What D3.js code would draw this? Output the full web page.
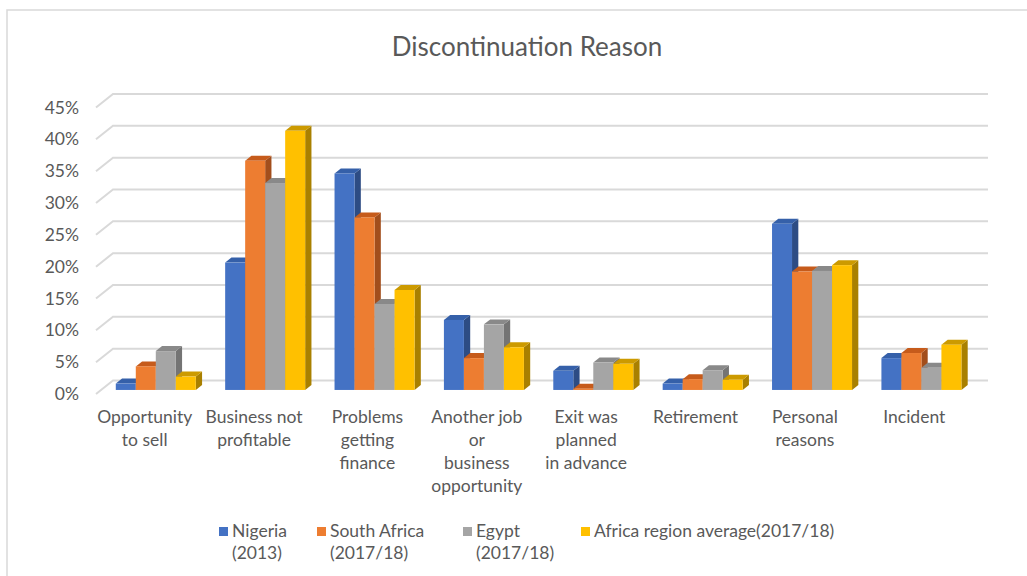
<!DOCTYPE html>
<html>
<head>
<meta charset="utf-8">
<script src="https://cdn.jsdelivr.net/npm/d3@7"></script>
<style>
  html, body { margin: 0; padding: 0; background: #fff; }
  svg { display: block; }
  text { font-family: Lato, "Open Sans", sans-serif; fill: #595959; }
</style>
</head>
<body>
<svg id="chart" width="1027" height="576"></svg>
<script>
// Reasons for discontinuing a business, share of respondents
const categories = [
  "Opportunity to sell", "Business not profitable", "Problems getting finance",
  "Another job or business opportunity", "Exit was planned in advance",
  "Retirement", "Personal reasons", "Incident"
];
const categoryLines = [
  ["Opportunity", "to sell"],
  ["Business not", "profitable"],
  ["Problems", "getting", "finance"],
  ["Another job", "or", "business", "opportunity"],
  ["Exit was", "planned", "in advance"],
  ["Retirement"],
  ["Personal", "reasons"],
  ["Incident"]
];
const seriesNames = ["Nigeria (2013)", "South Africa (2017/18)", "Egypt (2017/18)", "Africa region average(2017/18)"];
const legendLines = [["Nigeria", "(2013)"], ["South Africa", "(2017/18)"], ["Egypt", "(2017/18)"], ["Africa region average(2017/18)"]];

const nigeria     = [0.010, 0.200, 0.340, 0.110, 0.030, 0.010, 0.261, 0.050];
const southAfrica = [0.037, 0.360, 0.271, 0.050, 0.002, 0.017, 0.186, 0.058];
const egypt       = [0.061, 0.325, 0.135, 0.103, 0.043, 0.031, 0.187, 0.035];
const africaAvg   = [0.021, 0.407, 0.157, 0.067, 0.041, 0.016, 0.196, 0.071];
const seriesValues = [nigeria, southAfrica, egypt, africaAvg];

const yTicks = [0, 0.05, 0.10, 0.15, 0.20, 0.25, 0.30, 0.35, 0.40, 0.45];

// face colours: front, top, right side
const palette = [
  { front: "#4472C4", top: "#3560A9", side: "#2D4C84" },
  { front: "#ED7D31", top: "#C65B1B", side: "#A24E1C" },
  { front: "#A5A5A5", top: "#898989", side: "#747474" },
  { front: "#FFC000", top: "#CC9A00", side: "#A98000" }
];

const svg = d3.select("#chart");

// chart frame
svg.append("rect")
  .attr("x", 7).attr("y", 10).attr("width", 1200).attr("height", 800)
  .attr("fill", "none").attr("stroke", "#d9d9d9").attr("stroke-width", 1.5);

svg.append("text")
  .attr("x", 527).attr("y", 56)
  .attr("text-anchor", "middle")
  .style("font-size", "26px")
  .text("Discontinuation Reason");

// Oblique 3D: points on the back wall are shifted up-right from the front plane
const depthDX = 17, depthDY = -13.5;
const yBack = d3.scaleLinear().domain([0, 0.45]).range([380.5, 94]);
const x0 = d3.scaleBand().domain(categories).range([113, 988]).padding(0);
const groupWidth = 80;
const xi = d3.scaleBand().domain(seriesNames).range([0, groupWidth]).padding(0);

// depth fraction measured from the back wall (0) to the front plane (1)
function px(xb, d) { return xb - depthDX * d; }
function py(v, d) { return yBack(v) - depthDY * d; }

// gridlines: slanted segment on the side wall, then across the back wall
const grid = svg.append("g");
yTicks.forEach(t => {
  grid.append("path")
    .attr("d", `M${px(113, 1)},${py(t, 1)} L113,${yBack(t)} L988,${yBack(t)}`)
    .attr("fill", "none").attr("stroke", "#d9d9d9").attr("stroke-width", 2);
});

// y-axis tick labels on the front plane
svg.append("g").selectAll("text").data(yTicks).join("text")
  .attr("x", 79).attr("y", d => py(d, 1))
  .attr("dy", "0.35em")
  .attr("text-anchor", "end")
  .style("font-size", "17.5px")
  .text(d => d3.format(".0%")(d));

// bars: front face at depth 0.70, back face at depth 0.33
const dFront = 0.70, dBackBar = 0.33;
const bars = svg.append("g");
categories.forEach((c, ci) => {
  const gx = x0(c) + (x0.bandwidth() - groupWidth) / 2;
  seriesNames.forEach((s, si) => {
    const v = seriesValues[si][ci];
    const xl = gx + xi(s), xr = xl + xi.bandwidth();
    const col = palette[si];
    const g = bars.append("g");
    // right side face
    g.append("path")
      .attr("d", `M${px(xr, dFront)},${py(0, dFront)} L${px(xr, dBackBar)},${py(0, dBackBar)} L${px(xr, dBackBar)},${py(v, dBackBar)} L${px(xr, dFront)},${py(v, dFront)}Z`)
      .attr("fill", col.side);
    // top face
    g.append("path")
      .attr("d", `M${px(xl, dFront)},${py(v, dFront)} L${px(xr, dFront)},${py(v, dFront)} L${px(xr, dBackBar)},${py(v, dBackBar)} L${px(xl, dBackBar)},${py(v, dBackBar)}Z`)
      .attr("fill", col.top);
    // front face
    g.append("rect")
      .attr("x", px(xl, dFront)).attr("y", py(v, dFront))
      .attr("width", xr - xl).attr("height", py(0, dFront) - py(v, dFront))
      .attr("fill", col.front);
  });
});

// category labels along the front edge
const catG = svg.append("g");
categories.forEach((c, ci) => {
  const cx = px(x0(c) + x0.bandwidth() / 2, 1) - (ci < 2 ? 6 : 2);
  const t = catG.append("text")
    .attr("text-anchor", "middle")
    .style("font-size", "17.5px");
  categoryLines[ci].forEach((line, li) => {
    t.append("tspan").attr("x", cx).attr("y", 423 + li * 23).text(line);
  });
});

// legend
const legendX = [219, 317, 463, 581];
const legend = svg.append("g");
seriesNames.forEach((s, si) => {
  legend.append("rect")
    .attr("x", legendX[si]).attr("y", 527).attr("width", 9).attr("height", 9)
    .attr("fill", palette[si].front);
  const t = legend.append("text").style("font-size", "17.5px");
  legendLines[si].forEach((line, li) => {
    t.append("tspan").attr("x", legendX[si] + 13).attr("y", 537 + li * 22).text(line);
  });
});
</script>
</body>
</html>
